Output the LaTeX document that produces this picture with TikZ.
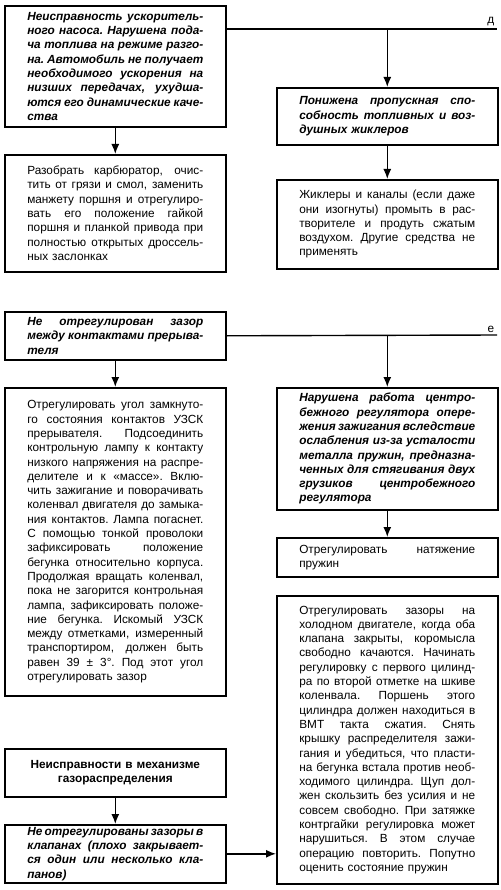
\documentclass[tikz,border=0pt]{standalone}
\usepackage{fontspec}
\setmainfont{Liberation Sans}
\usetikzlibrary{arrows.meta}
\newlength{\txtw}
\setlength{\txtw}{176pt}
\newcommand{\jl}[1]{{\spaceskip=.278em plus 1fil minus .1em
  \xspaceskip=\spaceskip\noindent\hbox to\txtw{#1}\par}}
\newcommand{\lastl}[1]{\noindent\hbox{#1}\par}

\begin{document}
\begin{tikzpicture}[x=1pt,y=-1pt,>={Latex[length=10pt,width=8pt]},line width=1.4pt,
  font=\fontsize{11.8pt}{14.3pt}\selectfont,
  box/.style={draw,line width=1.6pt,anchor=north west,text width=\txtw,
    inner xsep=22.5pt,inner ysep=0pt,font=\fontsize{11.8pt}{14.3pt}\selectfont},
  cause/.style={box,font=\fontsize{11.8pt}{14.3pt}\selectfont\bfseries\itshape}]
 \useasboundingbox (0,0) rectangle (500,890);
 % branch "d"
 \node[cause,minimum height=121pt] (pump) at (4,5) {%
  \jl{Неисправность ускоритель-}\jl{ного насоса. Нарушена пода-}%
  \jl{ча топлива на режиме разго-}\jl{на. Автомобиль не получает}%
  \jl{необходимого ускорения на}\jl{низших передачах, ухудша-}%
  \jl{ются его динамические каче-}\lastl{ства}};
 \node[box,minimum height=117pt] (carb) at (4,154) {%
  \jl{Разобрать карбюратор, очис-}\jl{тить от грязи и смол, заменить}%
  \jl{манжету поршня и отрегулиро-}\jl{вать его положение гайкой}%
  \jl{поршня и планкой привода при}\jl{полностью открытых дроссель-}%
  \lastl{ных заслонках}};
 \node[cause,minimum height=57pt] (jets) at (276,87) {%
  \jl{Понижена пропускная спо-}\jl{собность топливных и воз-}%
  \lastl{душных жиклеров}};
 \node[box,minimum height=89pt] (flush) at (276,179) {%
  \jl{Жиклеры и каналы (если даже}\jl{они изогнуты) промыть в рас-}%
  \jl{творителе и продуть сжатым}\jl{воздухом. Другие средства не}%
  \lastl{применять}};
 \coordinate (dEnd) at (497,29);
 \draw (pump.east |- dEnd) -- (dEnd) node[above left,inner sep=2pt] {д};
 \draw[->] (jets.north |- dEnd) -- (jets.north);
 \draw[->] (pump.south) -- (carb.north);
 \draw[->] (jets.south) -- (flush.north);
 % branch "e"
 \node[cause,minimum height=48pt] (gap) at (4,311) {%
  \jl{Не отрегулирован зазор}\jl{между контактами прерыва-}\lastl{теля}};
 \node[box,minimum height=308pt] (dwell) at (4,387) {%
  \jl{Отрегулировать угол замкнуто-}\jl{го состояния контактов УЗСК}%
  \jl{прерывателя. Подсоединить}\jl{контрольную лампу к контакту}%
  \jl{низкого напряжения на распре-}\jl{делителе и к «массе». Вклю-}%
  \jl{чить зажигание и поворачивать}\jl{коленвал двигателя до замыка-}%
  \jl{ния контактов. Лампа погаснет.}\jl{С помощью тонкой проволоки}%
  \jl{зафиксировать положение}\jl{бегунка относительно корпуса.}%
  \jl{Продолжая вращать коленвал,}\jl{пока не загорится контрольная}%
  \jl{лампа, зафиксировать положе-}\jl{ние бегунка. Искомый УЗСК}%
  \jl{между отметками, измеренный}\jl{транспортиром, должен быть}%
  \jl{равен 39 ± 3°. Под этот угол}\lastl{отрегулировать зазор}};
 \node[cause,minimum height=122pt] (advance) at (276,387) {%
  \jl{Нарушена работа центро-}\jl{бежного регулятора опере-}%
  \jl{жения зажигания вследствие}\jl{ослабления из-за усталости}%
  \jl{металла пружин, предназна-}\jl{ченных для стягивания двух}%
  \jl{грузиков центробежного}\lastl{регулятора}};
 \node[box,minimum height=39pt] (spring) at (276,537) {%
  \jl{Отрегулировать натяжение}\lastl{пружин}};
 \node[box,minimum height=288pt] (valves) at (276,595) {%
  \jl{Отрегулировать зазоры на}\jl{холодном двигателе, когда оба}%
  \jl{клапана закрыты, коромысла}\jl{свободно качаются. Начинать}%
  \jl{регулировку с первого цилинд-}\jl{ра по второй отметке на шкиве}%
  \jl{коленвала. Поршень этого}\jl{цилиндра должен находиться в}%
  \jl{ВМТ такта сжатия. Снять}\jl{крышку распределителя зажи-}%
  \jl{гания и убедиться, что пласти-}\jl{на бегунка встала против необ-}%
  \jl{ходимого цилиндра. Щуп дол-}\jl{жен скользить без усилия и не}%
  \jl{совсем свободно. При затяжке}\jl{контргайки регулировка может}%
  \jl{нарушиться. В этом случае}\jl{операцию повторить. Попутно}%
  \lastl{оценить состояние пружин}};
 \coordinate (eEnd) at (497,335);
 \draw (gap.east) -- (eEnd) node[above left,inner sep=2pt] {е};
 \draw[->] (advance.north |- gap.east) -- (advance.north);
 \draw[->] (gap.south) -- (dwell.north);
 \draw[->] (advance.south) -- (spring.north);
 % valve gear
 \node[box,minimum height=48pt,align=center,
   font=\fontsize{11.8pt}{14.3pt}\selectfont\bfseries] (timing) at (4,748)
   {Неисправности в механизме\\газораспределения};
 \node[cause,minimum height=58pt] (clear) at (4,824) {%
  \jl{Не отрегулированы зазоры в}\jl{клапанах (плохо закрывает-}%
  \jl{ся один или несколько кла-}\lastl{панов)}};
 \draw[->] (timing.south) -- (clear.north);
 \draw[->] (clear.east) -- (valves.west |- clear.east);
\end{tikzpicture}
\end{document}
